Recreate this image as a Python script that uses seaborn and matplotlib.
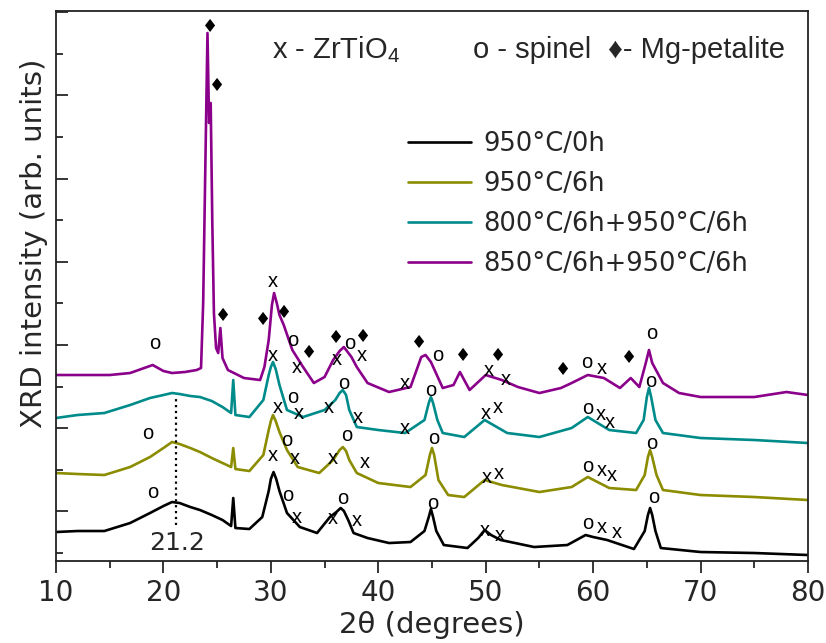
import numpy as np
import pandas as pd
import matplotlib as mpl
mpl.use('agg')
import matplotlib.pyplot as plt
import seaborn as sns
from matplotlib.ticker import MultipleLocator

sns.set_style('ticks')
plt.rcParams['font.family'] = ['DejaVu Sans']
plt.rcParams['mathtext.default'] = 'regular'

# 2theta (deg) / intensity (arb.)
tt_0h = [10, 12, 14.5, 16.9, 18.75, 20.0, 20.8, 21.5, 22.5, 23.4, 24.5, 25.5, 26.3, 26.5, 26.7,
         28.0, 29.2, 29.8, 30.0, 30.25, 30.5, 30.8, 31.5, 32.7, 34.3, 35.5, 36.1, 36.5, 36.8,
         37.2, 37.7, 39.0, 41.0, 43.0, 44.3, 44.7, 44.9, 45.1, 45.4, 46.1, 48.3, 49.3, 49.9,
         50.5, 51.4, 54.5, 57.6, 59.3, 60.0, 61.3, 63.8, 64.8, 65.1, 65.3, 65.5, 65.8, 66.3,
         70, 75, 80]
int_0h = [21, 22, 22, 30, 40, 47, 51, 50, 46, 43, 38, 33, 27, 55, 25,
          24, 36, 62, 74, 81, 74, 62, 40, 26, 20, 36, 41, 45, 42,
          33, 20, 15, 10, 11, 22, 36, 44, 36, 22, 8, 5, 15, 23,
          18, 13, 6, 8, 18, 16, 13, 4, 22, 38, 45, 38, 22, 5,
          1, 0, -2]

tt_6h = [10, 12, 14.5, 16.9, 18.75, 20.0, 20.8, 21.5, 22.5, 23.4, 24.5, 25.5, 26.3, 26.5, 26.7,
         28.0, 29.3, 29.8, 30.0, 30.2, 30.45, 30.8, 31.5, 32.5, 34.5, 35.8, 36.4, 36.7, 37.0,
         37.3, 38.0, 40.0, 43.0, 44.4, 44.8, 45.0, 45.2, 45.6, 46.5, 48.0, 49.9, 51.5, 55.0,
         58.0, 59.5, 61.5, 64.0, 64.8, 65.1, 65.3, 65.5, 65.9, 66.5, 70, 75, 80]
int_6h = [80, 79, 78, 86, 96, 105, 111, 109, 105, 101, 95, 90, 86, 105, 84,
          82, 98, 123, 132, 138, 132, 121, 103, 86, 80, 93, 103, 106, 102,
          93, 80, 70, 66, 78, 98, 105, 98, 73, 58, 56, 73, 68, 61,
          66, 76, 65, 63, 78, 96, 103, 96, 78, 63, 58, 56, 53]

tt_800 = [10, 12, 14.5, 16.9, 18.75, 20.0, 20.8, 21.5, 22.5, 23.4, 24.5, 25.5, 26.3, 26.5, 26.7,
          28.0, 29.3, 29.8, 30.0, 30.2, 30.45, 30.8, 31.5, 33.0, 35.0, 36.0, 36.4, 36.7, 37.0,
          37.3, 38.0, 40.0, 42.5, 44.3, 44.7, 44.9, 45.1, 45.5, 46.0, 48.0, 49.9, 52.0, 55.0,
          58.0, 59.5, 61.5, 64.0, 64.7, 65.0, 65.2, 65.4, 65.8, 66.5, 70, 75, 80]
int_800 = [135, 138, 140, 148, 155, 158, 160, 159, 157, 156, 152, 146, 140, 173, 138,
           136, 153, 178, 186, 191, 184, 168, 143, 136, 143, 153, 160, 163, 158,
           143, 126, 123, 120, 133, 150, 156, 150, 133, 120, 116, 133, 120, 116,
           125, 136, 123, 120, 133, 156, 165, 156, 133, 120, 115, 113, 110]

tt_850 = [10, 12, 15, 16.9, 19.0, 20.0, 20.8, 22.0, 23.1, 23.5, 23.7, 23.95, 24.1, 24.25, 24.4,
          24.55, 24.7, 24.9, 25.1, 25.3, 25.5, 26.0, 27.5, 29.0, 29.4, 29.8, 30.1, 30.3, 30.55,
          30.8, 31.2, 32.0, 33.0, 34.0, 35.0, 35.8, 36.4, 36.8, 37.5, 38.0, 39.0, 41.0, 43.0,
          44.0, 44.4, 44.9, 46.0, 47.0, 47.6, 48.5, 50.0, 51.5, 53.0, 55.0, 57.0, 58.0, 59.5,
          61.0, 62.5, 63.5, 64.3, 64.9, 65.2, 65.5, 66.5, 68.0, 70, 75, 78, 80]
int_850 = [178, 178, 178, 180, 188, 182, 180, 181, 183, 185, 250, 420, 520, 430, 450,
           330, 240, 205, 200, 225, 195, 183, 175, 173, 186, 213, 248, 260, 250,
           238, 228, 203, 186, 170, 176, 193, 202, 206, 196, 186, 170, 161, 166,
           196, 198, 191, 165, 168, 181, 163, 178, 173, 166, 160, 165, 170, 178,
           175, 165, 175, 166, 190, 203, 190, 170, 160, 156, 156, 161, 158]

series_labels = ['950\u00b0C/0h', '950\u00b0C/6h', '800\u00b0C/6h+950\u00b0C/6h', '850\u00b0C/6h+950\u00b0C/6h']
series_colors = ['#000000', '#8c8c00', '#008b8b', '#8b008b']

# phase marks: x = ZrTiO4, o = spinel, D = Mg-petalite
mark_tt = [24.33, 24.99, 19.22, 25.55, 29.27, 31.22, 32.06, 30.20, 30.20, 32.43, 33.55, 36.10,
           37.38, 38.58, 36.16, 38.48, 43.79, 42.49, 45.56, 47.89, 51.14, 50.31, 51.89, 57.19,
           59.43, 60.82, 63.34, 65.48,
           32.06, 30.66, 32.62, 35.41, 36.81, 38.11, 42.49, 44.91, 50.03, 51.14, 59.52, 60.73,
           61.57, 65.39,
           18.56, 31.50, 30.20, 32.25, 35.78, 37.09, 38.76, 45.19, 50.12, 51.24, 59.52, 60.82,
           61.75, 65.48,
           19.03, 31.60, 32.43, 35.78, 36.72, 38.02, 45.09, 49.93, 51.33, 59.52, 60.82, 62.22,
           65.66]
mark_int = [526, 467, 210, 237, 233, 240, 213, 272, 198, 186, 200, 215,
            210, 216, 194, 198, 210, 170, 198, 197, 197, 183, 174, 183,
            191, 185, 195, 220,
            156, 146, 140, 146, 170, 136, 125, 163, 140, 146, 145, 139,
            131, 172,
            120, 113, 98, 95, 95, 118, 91, 115, 76, 80, 87, 83,
            78, 110,
            61, 58, 36, 35, 55, 33, 50, 23, 18, 30, 26, 21,
            56]
mark_sym = list('DDoDDDoxxxDDoDxxDxoDDxxDoxDo' + 'oxxxoxxoxxoxxo' + 'ooxxxoxoxxoxxo' + 'ooxxoxoxxoxxo')

hump_tt = 21.2
hump_top, hump_bottom = 156, 28

fig = plt.figure(figsize=(8.26, 6.43), dpi=100)
ax = fig.add_axes([0.0678, 0.1275, 0.9104, 0.8554])

for tt, inten, lab, col in zip([tt_0h, tt_6h, tt_800, tt_850], [int_0h, int_6h, int_800, int_850],
                               series_labels, series_colors):
    df = pd.DataFrame({'two_theta': tt, 'intensity': inten})
    sns.lineplot(data=df, x='two_theta', y='intensity', color=col, lw=1.9, label=lab, ax=ax)

for t, i, s in zip(mark_tt, mark_int, mark_sym):
    if s == 'D':
        ax.text(t, i, '\u2666', ha='center', va='center', fontsize=13, color='k')
    else:
        ax.text(t, i, s, ha='center', va='center', fontsize=14.5, color='k',
                family=['Liberation Sans', 'DejaVu Sans'])

ax.plot([hump_tt, hump_tt], [hump_bottom, hump_top], ls=':', color='k', lw=1.6)
ax.text(hump_tt + 0.06, 10, '21.2', ha='center', va='center', fontsize=18)

top_font = ['Liberation Sans', 'DejaVu Sans']
ax.text(30.1, 495, 'x - ZrTiO$_4$', fontsize=21, ha='left', va='baseline', family=top_font)
ax.text(48.8, 495, 'o - spinel', fontsize=21, ha='left', va='baseline', family=top_font)
ax.text(61.4, 495, '\u2666- Mg-petalite', fontsize=21, ha='left', va='baseline', family=top_font)

ax.legend(loc='upper left', bbox_to_anchor=(0.438, 0.824), frameon=False, fontsize=18.5,
          handlelength=2.45, handletextpad=0.45, labelspacing=0.55, borderpad=0.4)

ax.set_xlim(10, 80)
ax.set_ylim(-8, 542)
ax.set_xticks(range(10, 81, 10))
ax.xaxis.set_minor_locator(MultipleLocator(5))
yt = 41.6 * np.arange(0, 14)
ax.set_yticks(yt[1::2])
ax.set_yticks(yt[0::2], minor=True)

ax.tick_params(axis='x', which='both', direction='out', top=False, labelsize=20, width=1.3, pad=4.5)
ax.tick_params(axis='x', which='major', length=8.5)
ax.tick_params(axis='x', which='minor', length=5)
ax.tick_params(axis='y', which='both', direction='in', right=False, labelleft=False, width=1.3)
ax.tick_params(axis='y', which='major', length=8.5)
ax.tick_params(axis='y', which='minor', length=5)
for sp in ax.spines.values():
    sp.set_linewidth(1.3)
    sp.set_color('#222222')

ax.set_xlabel('2\u03b8 (degrees)', fontsize=21)
ax.set_ylabel('XRD intensity (arb. units)', fontsize=21)
ax.xaxis.set_label_coords(0.5, -0.09)
ax.yaxis.set_label_coords(-0.011, 0.578)

fig.savefig('out.png', dpi=100)
